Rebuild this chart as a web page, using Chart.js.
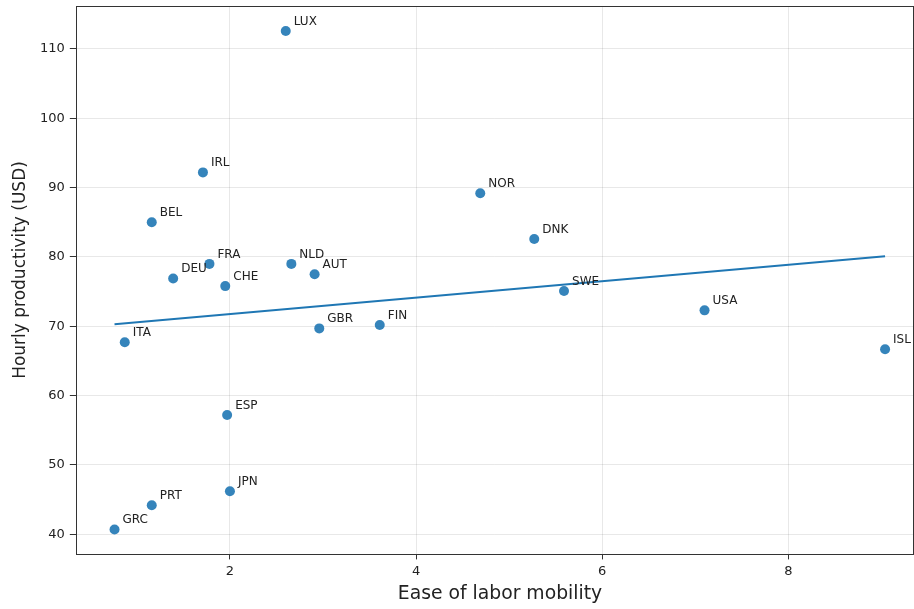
<!DOCTYPE html>
<html>
<head>
<meta charset="utf-8">
<script src="https://cdn.jsdelivr.net/npm/chart.js@4.4.0/dist/chart.umd.min.js"></script>
<style>
  html, body { margin: 0; padding: 0; background: #fff; }
  #wrap { width: 914px; height: 609px; }
</style>
</head>
<body>
<div id="wrap"><canvas id="chart" width="914" height="609"></canvas></div>
<script>
// Pays et valeurs
const countries = ['LUX', 'IRL', 'BEL', 'DEU', 'FRA', 'CHE', 'NLD', 'AUT', 'GBR', 'FIN',
    'NOR', 'DNK', 'SWE', 'USA', 'ISL', 'ITA', 'ESP', 'JPN', 'PRT', 'GRC'];
const mobility = [2.60, 1.71, 1.16, 1.39, 1.78, 1.95, 2.66, 2.91, 2.96, 3.61,
    4.69, 5.27, 5.59, 7.10, 9.04, 0.87, 1.97, 2.00, 1.16, 0.76];
const productivity = [112.6, 92.2, 85.0, 76.9, 79.0, 75.8, 79.0, 77.5, 69.7, 70.2,
    89.2, 82.6, 75.1, 72.3, 66.7, 67.7, 57.2, 46.2, 44.2, 40.7];

// Droite de tendance (extrémités lues)
const trendX = [0.76, 9.04];
const trendY = [70.3, 80.1];

const xTicks = [2, 4, 6, 8];
const yTicks = [40, 50, 60, 70, 80, 90, 100, 110];

const xTitle = 'Ease of labor mobility';
const yTitle = 'Hourly productivity (USD)';

const blue = '#1f77b4';

/**
 * Étiquettes des pays à côté des points
 */
const labelPlugin = {
    id: 'pointLabels',
    afterDatasetsDraw(chart) {
        const ctx = chart.ctx;
        const meta = chart.getDatasetMeta(0);
        ctx.save();
        ctx.font = '12px "DejaVu Sans"';
        ctx.fillStyle = '#222';
        ctx.textAlign = 'left';
        ctx.textBaseline = 'alphabetic';
        meta.data.forEach((pt, i) => {
            ctx.fillText(countries[i], pt.x + 8, pt.y - 6);
        });
        ctx.restore();
    }
};

/**
 * Cadre complet et titres des axes
 */
const framePlugin = {
    id: 'frame',
    afterDraw(chart) {
        const a = chart.chartArea;
        const ctx = chart.ctx;
        ctx.save();
        ctx.strokeStyle = '#333';
        ctx.lineWidth = 1;
        ctx.strokeRect(Math.round(a.left) + 0.5, Math.round(a.top) + 0.5,
            Math.round(a.right - a.left), Math.round(a.bottom - a.top));

        ctx.fillStyle = '#222';
        ctx.textAlign = 'center';
        ctx.textBaseline = 'alphabetic';
        ctx.font = '18.8px "DejaVu Sans"';
        ctx.fillText(xTitle, 500, 599);

        ctx.translate(25, 270);
        ctx.rotate(-Math.PI / 2);
        ctx.font = '17px "DejaVu Sans"';
        ctx.fillText(yTitle, 0, 0);
        ctx.restore();
    }
};

// Pas de marge automatique due aux étiquettes des graduations
function noScalePadding(scale) {
    scale.paddingTop = 0;
    scale.paddingBottom = 0;
    scale.paddingLeft = 0;
    scale.paddingRight = 0;
}

new Chart(document.getElementById('chart'), {
    type: 'scatter',
    data: {
        datasets: [{
            label: 'Pays',
            data: mobility.map((x, i) => ({ x: x, y: productivity[i] })),
            backgroundColor: 'rgba(31, 119, 180, 0.9)',
            borderWidth: 0,
            pointRadius: 5,
            pointHoverRadius: 5,
        }, {
            label: 'Tendance',
            type: 'line',
            data: trendX.map((x, i) => ({ x: x, y: trendY[i] })),
            borderColor: blue,
            borderWidth: 2,
            pointRadius: 0,
            fill: false,
        }]
    },
    options: {
        responsive: false,
        animation: false,
        layout: { autoPadding: false, padding: { left: 35, right: 1, top: 6, bottom: 26 } },
        plugins: {
            legend: { display: false },
            tooltip: { enabled: false },
        },
        scales: {
            x: {
                type: 'linear',
                min: 0.344,
                max: 9.34,
                afterBuildTicks: (axis) => { axis.ticks = xTicks.map(v => ({ value: v })); },
                afterFit: noScalePadding,
                ticks: {
                    color: '#222',
                    font: { family: 'DejaVu Sans', size: 13 },
                    padding: 4,
                },
                grid: {
                    color: 'rgba(0,0,0,0.09)',
                    tickColor: '#333',
                    tickLength: 5,
                },
                border: { display: false },
            },
            y: {
                min: 37.1,
                max: 116.2,
                afterBuildTicks: (axis) => { axis.ticks = yTicks.map(v => ({ value: v })); },
                afterFit: noScalePadding,
                ticks: {
                    color: '#222',
                    font: { family: 'DejaVu Sans', size: 13 },
                    padding: 5,
                },
                grid: {
                    color: 'rgba(0,0,0,0.09)',
                    tickColor: '#333',
                    tickLength: 6,
                },
                border: { display: false },
            }
        }
    },
    plugins: [labelPlugin, framePlugin]
});
</script>
</body>
</html>
